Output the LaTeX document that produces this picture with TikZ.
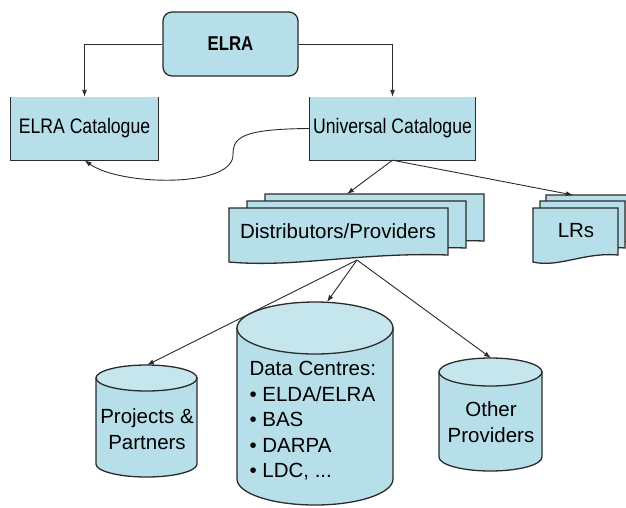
\documentclass[tikz,border=0pt]{standalone}
\usepackage{fontspec}
\setmainfont{Liberation Sans}
\newfontfamily\narrowsans[FakeStretch=0.84]{Liberation Sans}
\usetikzlibrary{arrows.meta}
\definecolor{boxblue}{HTML}{B7DFEA}
\definecolor{topblue}{HTML}{C6E6EE}
\definecolor{edge}{HTML}{2B2B2B}
% one sheet of a stacked document: left, top, width, height
\newcommand{\docsheet}[4]{%
\filldraw[shp] (#1,-#2) -- (#1+#3,-#2) -- (#1+#3,-#2-#4+7)
  .. controls (#1+0.6*#3,-#2-#4+10) and (#1+0.3*#3,-#2-#4-6) .. (#1,-#2-#4) -- cycle;}
% cylinder: centre x, top y, bottom y, x radius, y radius
\newcommand{\dbcyl}[5]{%
\filldraw[shp] (#1-#4,-#2) -- (#1-#4,-#3) arc[start angle=180,end angle=360,x radius=#4,y radius=#5] -- (#1+#4,-#2) -- cycle;
\filldraw[shp,fill=topblue] (#1,-#2) ellipse[x radius=#4,y radius=#5];}

\begin{document}
\begin{tikzpicture}[x=1pt,y=1pt,
  lbl/.style={font=\narrowsans\fontsize{21}{25}\selectfont},
  big/.style={font=\fontsize{20.5}{25.5}\selectfont,align=center},
  con/.style={draw=edge,line width=0.9pt,-{Latex[length=7pt,width=5pt]}},
  shp/.style={draw=edge,line width=1.3pt,fill=boxblue}]
\useasboundingbox (0,0) rectangle (626,-507);
{
% top row
\node[shp,rounded corners=9pt,minimum width=135,minimum height=64,font=\narrowsans\fontsize{20}{24}\selectfont\bfseries] (elra) at (230.5,-44) {ELRA};
\node[lbl,fill=boxblue,minimum width=147,minimum height=63] (elracat) at (84.5,-128.5) {ELRA Catalogue};
\node[lbl,fill=boxblue,minimum width=165,minimum height=63] (unicat) at (392.5,-128.5) {Universal Catalogue};
\foreach \n in {elracat,unicat}{
\draw[draw=edge,line width=1.3pt] (\n.north west) -- (\n.south west) -- (\n.south east) -- (\n.north east);
}
\draw[con] (elra.west) -| (elracat.north);
\draw[con] (elra.east) -| (unicat.north);
\draw[con] (unicat.west) .. controls (240,-129) and (233,-138) .. (233,-155)
  .. controls (233,-188) and (120,-186) .. (elracat.south);
% stacked documents
\foreach \lx/\ty in {265/194,247/201,229/208}{
\docsheet{\lx}{\ty}{219}{54}
}
\foreach \lx/\ty in {546/195,540/201,533/208}{
\docsheet{\lx}{\ty}{85}{54}
}
\node[big] (dist) at (338,-231) {Distributors/Providers};
\node[big] (lrs) at (576,-231) {LRs};
\coordinate (disttop) at (347,-194);
\coordinate (lrtop) at (573,-195);
\coordinate (distbot) at (357,-260);
\draw[con] (unicat.south) -- (disttop);
\draw[con] (unicat.south) -- (lrtop);
% cylinders
\dbcyl{146.5}{378}{464}{50.5}{13}
\dbcyl{315}{328}{479}{78}{26}
\dbcyl{490.5}{372}{457}{51.5}{14}
\node[big] (proj) at (147,-429) {Projects \&\\Partners};
\node[big,align=left,anchor=west] (data) at (246,-421) {Data Centres:\\• ELDA/ELRA\\• BAS\\• DARPA\\• LDC, ...};
\node[big] (other) at (491,-422) {Other\\Providers};
\coordinate (projtop) at (147,-365);
\coordinate (datatop) at (327,-302);
\coordinate (othertop) at (491,-358);
\draw[con] (distbot) -- (projtop);
\draw[con] (distbot) -- (datatop);
\draw[con] (distbot) -- (othertop);
}
\end{tikzpicture}
\end{document}
